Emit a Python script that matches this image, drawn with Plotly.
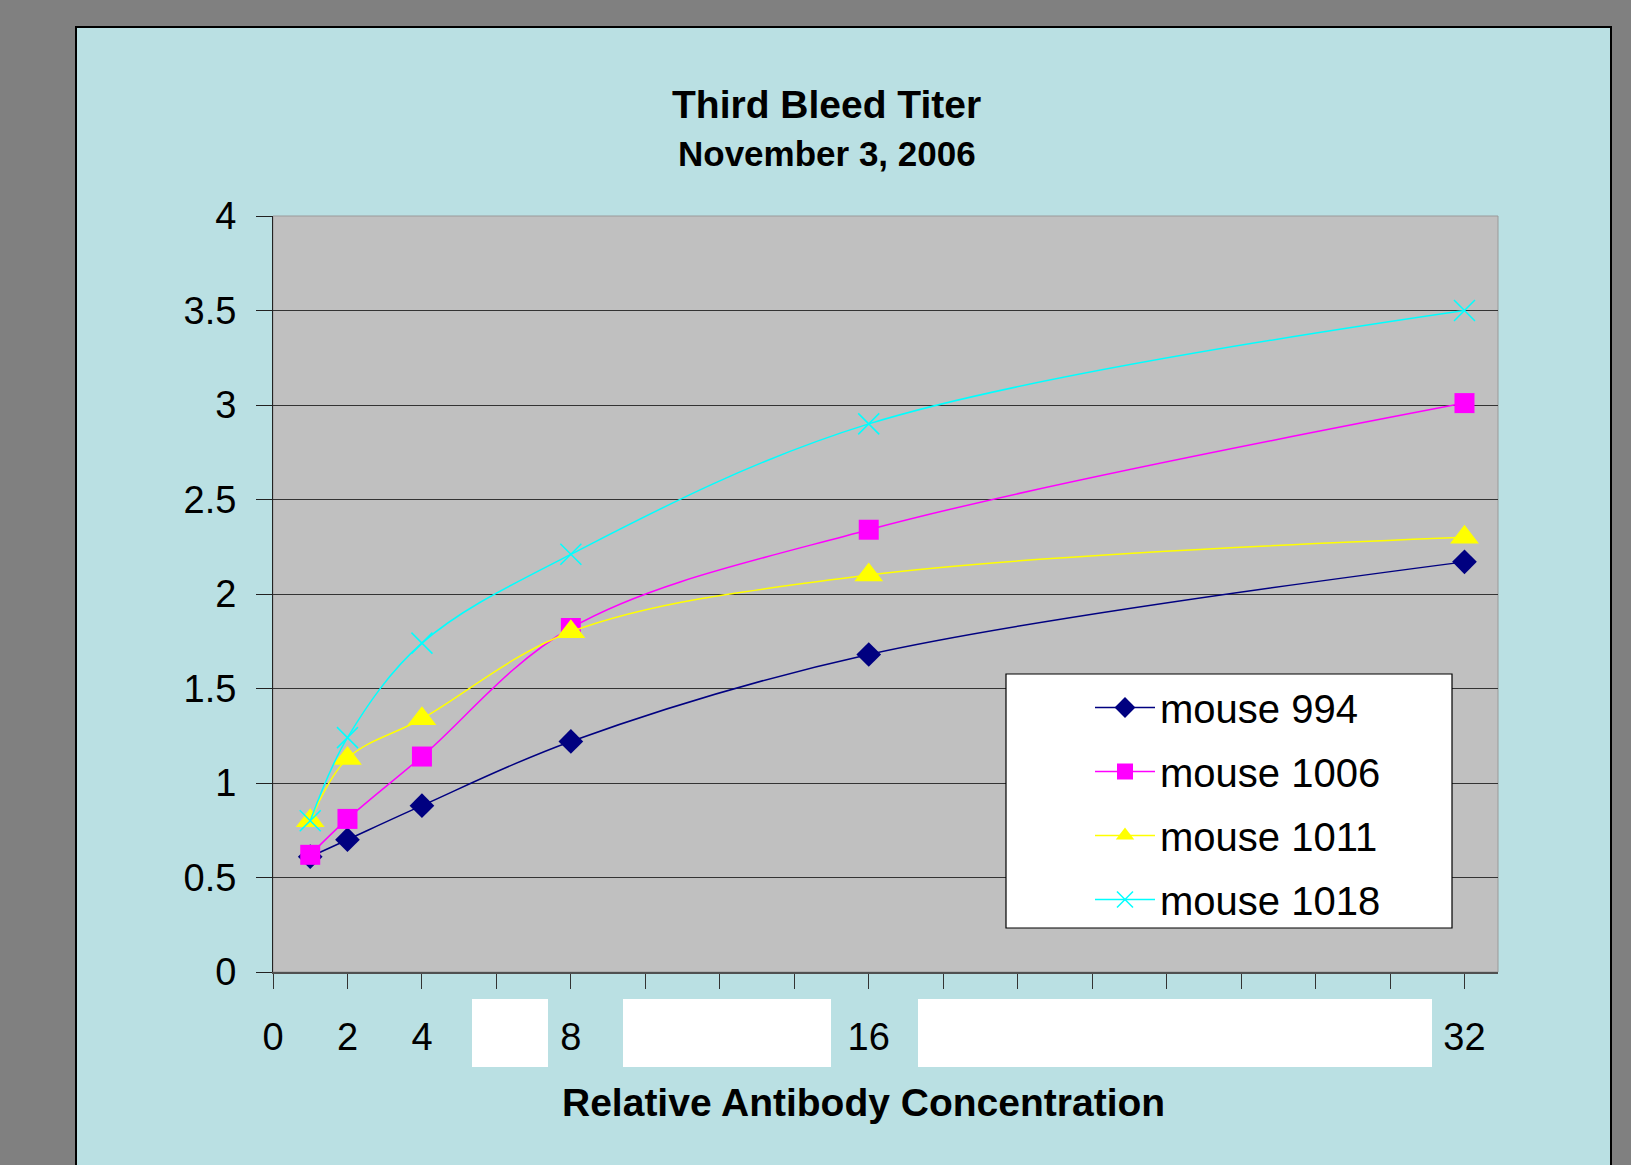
import plotly.graph_objects as go

# relative antibody concentration (x) and absorbance readings per mouse
concentration = [1, 2, 4, 8, 16, 32]
mouse_994 = [0.61, 0.70, 0.88, 1.22, 1.68, 2.17]
mouse_1006 = [0.62, 0.81, 1.14, 1.82, 2.34, 3.01]
mouse_1011 = [0.80, 1.13, 1.34, 1.80, 2.10, 2.30]
mouse_1018 = [0.80, 1.24, 1.74, 2.21, 2.90, 3.50]

x_tick_values = [0, 2, 4, 6, 8, 10, 12, 14, 16, 18, 20, 22, 24, 26, 28, 30, 32]
x_tick_labels = ["0", "2", "4", "", "8", "", "", "", "16",
                 "", "", "", "", "", "", "", "32"]
y_tick_values = [0, 0.5, 1, 1.5, 2, 2.5, 3, 3.5, 4]
y_tick_labels = ["0", "0.5", "1", "1.5", "2", "2.5", "3", "3.5", "4"]

FONT = "Arial, 'Liberation Sans', sans-serif"
W, H = 1631, 1165
L, R, T, B = 273, 1498, 216, 972   # plot area in pixels


def px_x(x):
    return (x - L) / (R - L)


def px_y(y):
    return (B - y) / (B - T)


def rect(x0, y0, x1, y1, fill, line_color=None, line_width=0, layer="below"):
    return dict(type="rect", xref="paper", yref="paper",
                x0=px_x(x0), x1=px_x(x1), y0=px_y(y1), y1=px_y(y0),
                fillcolor=fill, layer=layer,
                line=dict(color=line_color or fill, width=line_width))


series = [
    ("mouse 994", mouse_994, "#000080", "diamond", 19),
    ("mouse 1006", mouse_1006, "#FF00FF", "square", 20),
    ("mouse 1011", mouse_1011, "#FFFF00", "triangle-up", 25),
    ("mouse 1018", mouse_1018, "#00FFFF", "x-thin", 21),
]

fig = go.Figure()
for name, values, color, symbol, size in series:
    fig.add_trace(go.Scatter(
        x=concentration, y=values, name=name, legendgroup=name,
        mode="lines+markers",
        line=dict(color=color, width=1.5, shape="spline", smoothing=1),
        marker=dict(symbol=symbol, size=size, color=color,
                    line=dict(color=color, width=1.5 if symbol == "x-thin" else 0)),
    ))

shapes = [
    rect(76, 27, 1611, 1180, "#BAE0E3", "#000000", 2),          # chart panel
    dict(type="rect", xref="paper", yref="paper", x0=0, x1=1, y0=0, y1=1,
         fillcolor="#C0C0C0", layer="below", line=dict(color="#9A9A9A", width=1)),
    rect(472, 999, 548, 1067, "#FFFFFF"),                        # label cover boxes
    rect(623, 999, 831, 1067, "#FFFFFF"),
    rect(918, 999, 1432, 1067, "#FFFFFF"),
    rect(1006, 674, 1452, 928, "#FFFFFF", "#000000", 1.2, layer="above"),  # legend box
]

annotations = [
    dict(text="<b>Third Bleed Titer</b>", x=px_x(826), y=px_y(104)),
    dict(text="<b>November 3, 2006</b>", x=px_x(827), y=px_y(153), size=35),
    dict(text="<b>Relative Antibody Concentration</b>", x=px_x(863), y=px_y(1102), size=39),
]
fig.update_layout(annotations=[
    dict(text=a["text"], x=a["x"], y=a["y"], xref="paper", yref="paper",
         xanchor="center", yanchor="middle", showarrow=False,
         font=dict(family=FONT, size=a.get("size", 39), color="#000000"))
    for a in annotations
])

fig.update_layout(
    width=W, height=H,
    margin=dict(l=L, r=W - R, t=T, b=H - B, pad=0),
    paper_bgcolor="#808080",
    plot_bgcolor="rgba(0,0,0,0)",
    font=dict(family=FONT, color="#000000"),
    shapes=shapes,
    showlegend=True,
    legend=dict(
        x=px_x(1090), y=px_y(675), xanchor="left", yanchor="top",
        bgcolor="rgba(0,0,0,0)", borderwidth=0,
        font=dict(family=FONT, size=40, color="#000000"),
        itemwidth=60, tracegroupgap=9, traceorder="grouped",
    ),
)

fig.update_xaxes(
    range=[0, 32.9], tickmode="array", tickvals=x_tick_values, ticktext=x_tick_labels,
    ticks="outside", ticklen=15, tickwidth=1, tickcolor="#333333",
    showline=True, linecolor="#505050", linewidth=2,
    showgrid=False, zeroline=False,
    tickfont=dict(family=FONT, size=38, color="#000000"),
    ticklabelstandoff=15, fixedrange=True,
)
fig.update_yaxes(
    range=[0, 4], tickmode="array", tickvals=y_tick_values, ticktext=y_tick_labels,
    ticks="outside", ticklen=16, tickwidth=1, tickcolor="#222222",
    showline=True, linecolor="#222222", linewidth=1,
    showgrid=True, gridcolor="#333333", gridwidth=1.2, zeroline=False,
    tickfont=dict(family=FONT, size=38, color="#000000"),
    ticklabelstandoff=12, fixedrange=True,
)

fig.write_html("out.html", config={"displayModeBar": False},
               post_script="document.body.style.margin='0';")
